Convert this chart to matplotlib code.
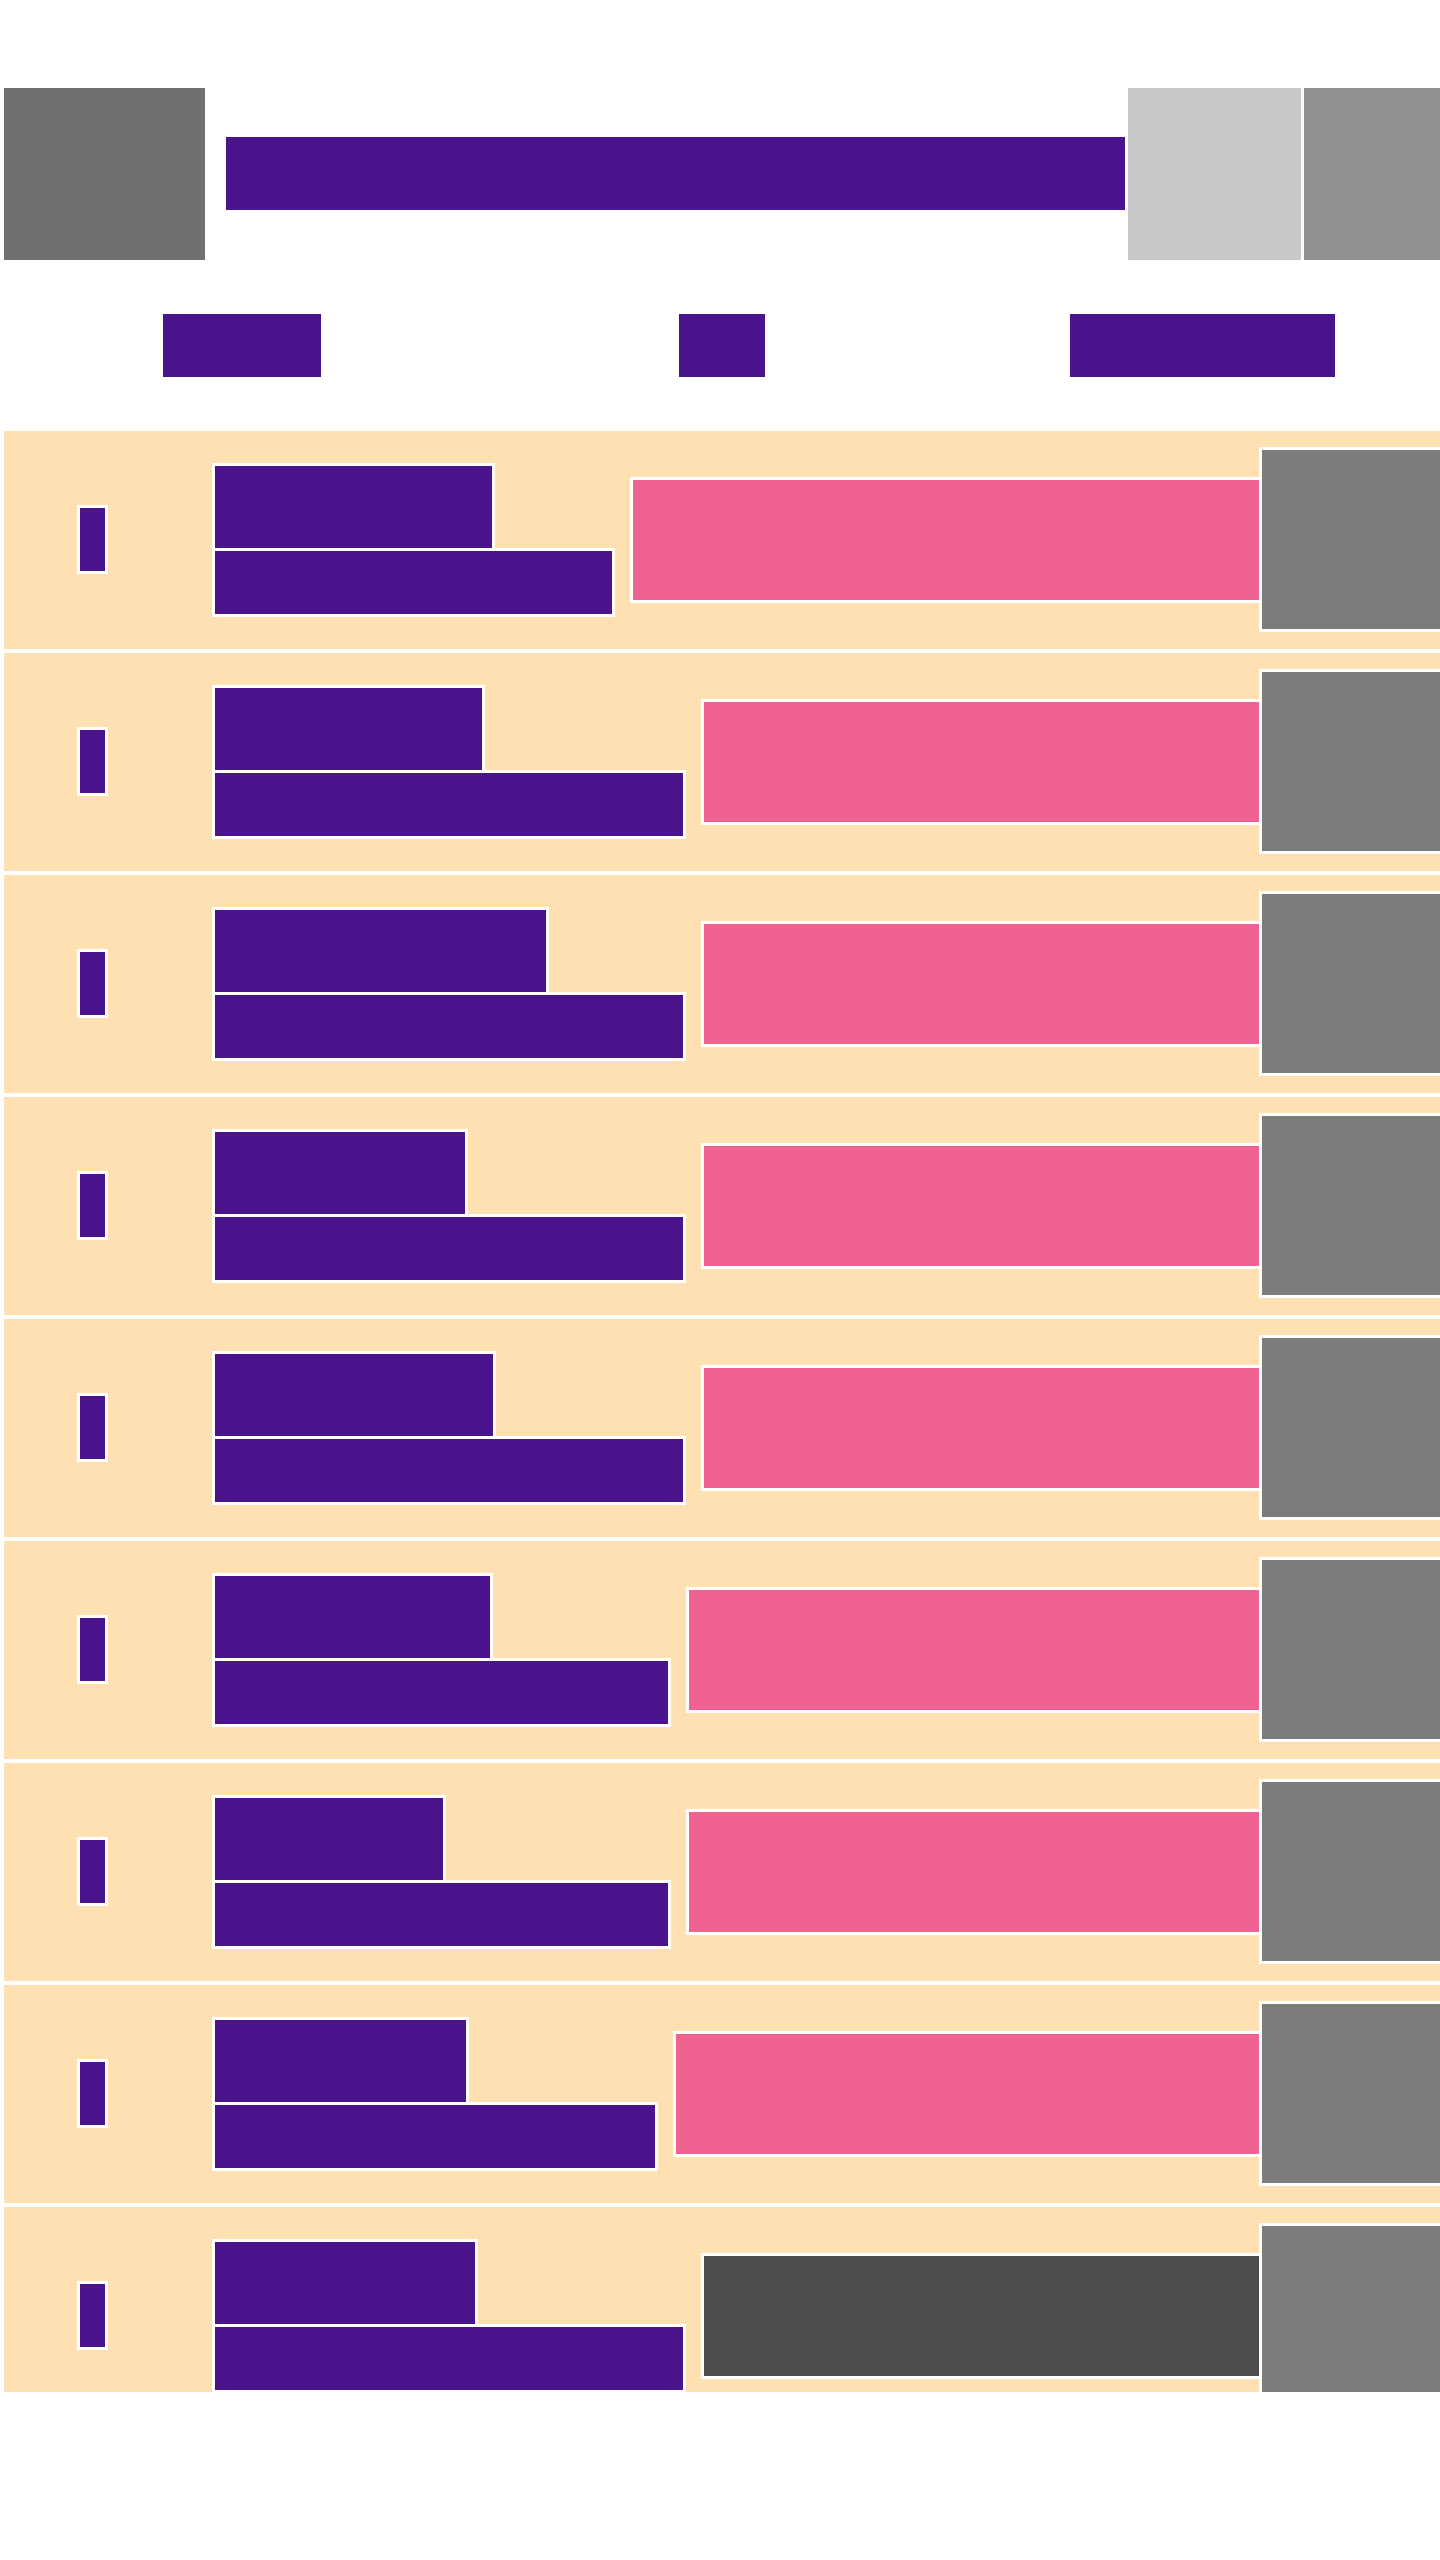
import matplotlib
matplotlib.use("Agg")
import matplotlib.pyplot as plt

# ---- data (bar lengths, in px of the 1440-wide canvas) ----
rows = list(range(9))
top_bar = [277, 267, 331, 250, 278, 275, 228, 251, 260]      # upper purple bar length
bottom_bar = [397, 468, 468, 468, 468, 453, 453, 440, 468]   # lower purple bar length
highlight = ["pink"] * 8 + ["dark"]                          # right-hand bar kind
header_cols = [(162, 320), (678, 764), (1069, 1334)]

# ---- styles ----
PURPLE = "#4A148C"
PINK = "#F06292"
DARK = "#4D4D4D"
ROWBG = "#FFE0B2"
GRAY_R = "#7C7C7C"
GRAY_HL = "#707070"
GRAY_LIGHT = "#C9C9C9"
GRAY_MID = "#909090"

W, H = 1440, 2560
CLIP_Y = 2392
fig = plt.figure(figsize=(W / 100, H / 100), dpi=100)
fig.patch.set_facecolor("white")
ax = fig.add_axes([0, (H - CLIP_Y) / H, 1, CLIP_Y / H])
ax.set_xlim(0, W)
ax.set_ylim(CLIP_Y, 0)
ax.axis("off")

LW = 3 * 72 / 100  # 3 px white outline
P = 1.5


def box(x0, x1, y0, y1, color, z=1):
    ax.barh((y0 + y1) / 2, (x1 - x0) + 2 * P, left=x0 - P, height=(y1 - y0) + 2 * P,
            color=color, edgecolor="white", linewidth=LW, zorder=z)


# header
box(3, 204, 87, 259, GRAY_HL)
box(225, 1124, 136, 209, PURPLE)
box(1127, 1300, 87, 259, GRAY_LIGHT)
box(1303, 1445, 87, 259, GRAY_MID)
for x0, x1 in header_cols:
    box(x0, x1, 313, 376, PURPLE)

# rows
ROW0, ROWH, BAR_LEFT, RIGHT_END = 430, 222, 214, 1258
for i in rows:
    t = ROW0 + ROWH * i
    box(3, 1445, t, t + 218, ROWBG, z=0)
    box(79, 104, t + 77, t + 140, PURPLE, z=2)
    box(BAR_LEFT, BAR_LEFT + top_bar[i], t + 35, t + 117, PURPLE, z=2)
    box(BAR_LEFT, BAR_LEFT + bottom_bar[i], t + 120, t + 183, PURPLE, z=2)
    c = PINK if highlight[i] == "pink" else DARK
    box(BAR_LEFT + bottom_bar[i] + 21, RIGHT_END, t + 49, t + 169, c, z=2)
    box(1261, 1445, t + 19, t + 198, GRAY_R, z=3)

fig.savefig("out.png", dpi=100, facecolor="white")
